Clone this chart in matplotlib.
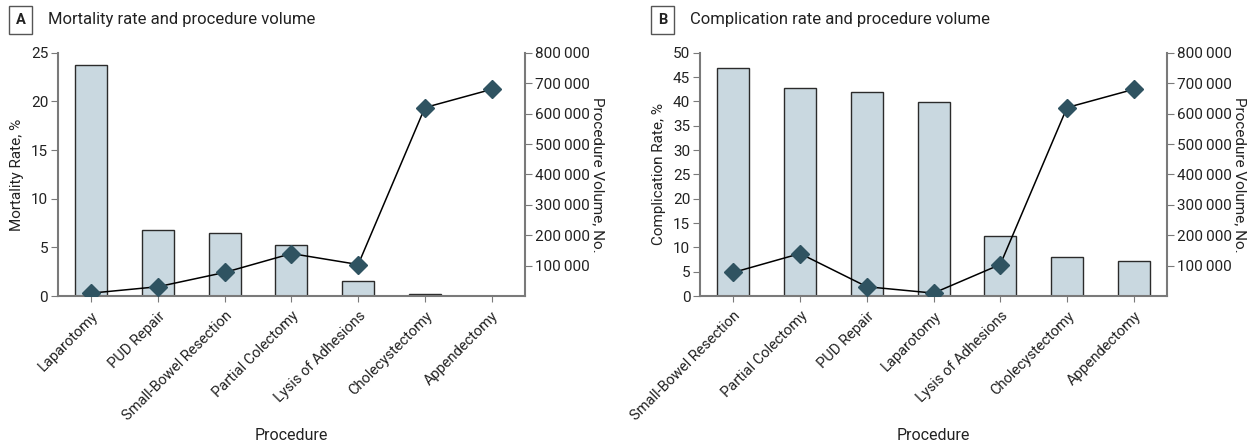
import matplotlib
matplotlib.use("Agg")
import matplotlib.pyplot as plt
from matplotlib.ticker import FuncFormatter

plt.rcParams['font.family'] = ['Roboto', 'DejaVu Sans']

# ---------------- data ----------------
procedures_a = ['Laparotomy', 'PUD Repair', 'Small-Bowel Resection', 'Partial Colectomy',
                'Lysis of Adhesions', 'Cholecystectomy', 'Appendectomy']
mortality_rate = [23.7, 6.8, 6.5, 5.3, 1.6, 0.25, 0.03]
volume_a = [10000, 31000, 78000, 140000, 104000, 620000, 680000]

procedures_b = ['Small-Bowel Resection', 'Partial Colectomy', 'PUD Repair', 'Laparotomy',
                'Lysis of Adhesions', 'Cholecystectomy', 'Appendectomy']
complication_rate = [46.8, 42.8, 41.9, 39.9, 12.3, 8.1, 7.2]
volume_b = [78000, 140000, 31000, 10000, 104000, 620000, 680000]

vol_ticks = [100000, 200000, 300000, 400000, 500000, 600000, 700000, 800000]

BAR = '#c9d8e0'
EDGE = '#2b2b2b'
MARK = '#2f5361'
SPINE = '#7a7a7a'
TXT = '#222222'

fig = plt.figure(figsize=(12.59, 4.44), dpi=100)


def fmt(v, pos):
    return f'{int(v):,}'.replace(',', '\u2009')


def panel(rect, cats, rates, vols, ymax, yticks, ylabel, letter, title, title_x):
    ax = fig.add_axes(rect)
    x = list(range(len(cats)))
    ax.bar(x, rates, width=0.48, color=BAR, edgecolor=EDGE, linewidth=1.0, zorder=2)
    ax.set_xlim(-0.5, len(cats) - 0.5)
    ax.set_ylim(0, ymax)
    ax.set_yticks(yticks)
    ax.set_xticks(x)
    ax.set_xticklabels(cats, rotation=45, ha='right', rotation_mode='anchor', fontsize=10.5, color=TXT)
    ax.tick_params(axis='x', length=4, color=SPINE, pad=5)
    ax.tick_params(axis='y', labelsize=11, labelcolor=TXT, length=5, color=SPINE, pad=2)
    ax.set_ylabel(ylabel, fontsize=11, labelpad=5, color=TXT)
    ax.set_xlabel('Procedure', fontsize=11.5, color=TXT)
    ax.xaxis.set_label_coords(0.5, -0.54)
    for s in ['top', 'right']:
        ax.spines[s].set_visible(False)
    for s in ['left', 'bottom']:
        ax.spines[s].set_color(SPINE)
        ax.spines[s].set_linewidth(1.5)

    ax2 = ax.twinx()
    ax2.plot(x, vols, color='black', linewidth=1.1, marker='D', markersize=9,
             markerfacecolor=MARK, markeredgecolor=MARK, zorder=3)
    ax2.set_ylim(0, 800000)
    ax2.set_yticks(vol_ticks)
    ax2.yaxis.set_major_formatter(FuncFormatter(fmt))
    ax2.tick_params(axis='y', labelsize=11, labelcolor=TXT, length=5, color=SPINE, pad=2)
    ax2.set_ylabel('Procedure Volume, No.', fontsize=11, rotation=270, labelpad=11, color=TXT)
    for s in ['top', 'left', 'bottom']:
        ax2.spines[s].set_visible(False)
    ax2.spines['right'].set_color(SPINE)
    ax2.spines['right'].set_linewidth(1.5)

    fig.text(title_x, 0.955, letter, fontsize=10.5, fontweight='bold', ha='left', va='center',
             color=TXT,
             bbox=dict(boxstyle='square,pad=0.45', facecolor='white', edgecolor='#555555', linewidth=1))
    fig.text(title_x + 0.0255, 0.955, title, fontsize=12, ha='left', va='center', color=TXT)


panel([0.046, 0.333, 0.371, 0.548], procedures_a, mortality_rate, volume_a, 25,
      [0, 5, 10, 15, 20, 25], 'Mortality Rate, %', 'A', 'Mortality rate and procedure volume', 0.0125)
panel([0.556, 0.333, 0.371, 0.548], procedures_b, complication_rate, volume_b, 50,
      list(range(0, 51, 5)), 'Complication Rate, %', 'B', 'Complication rate and procedure volume', 0.5225)

fig.savefig('out.png', dpi=100)
